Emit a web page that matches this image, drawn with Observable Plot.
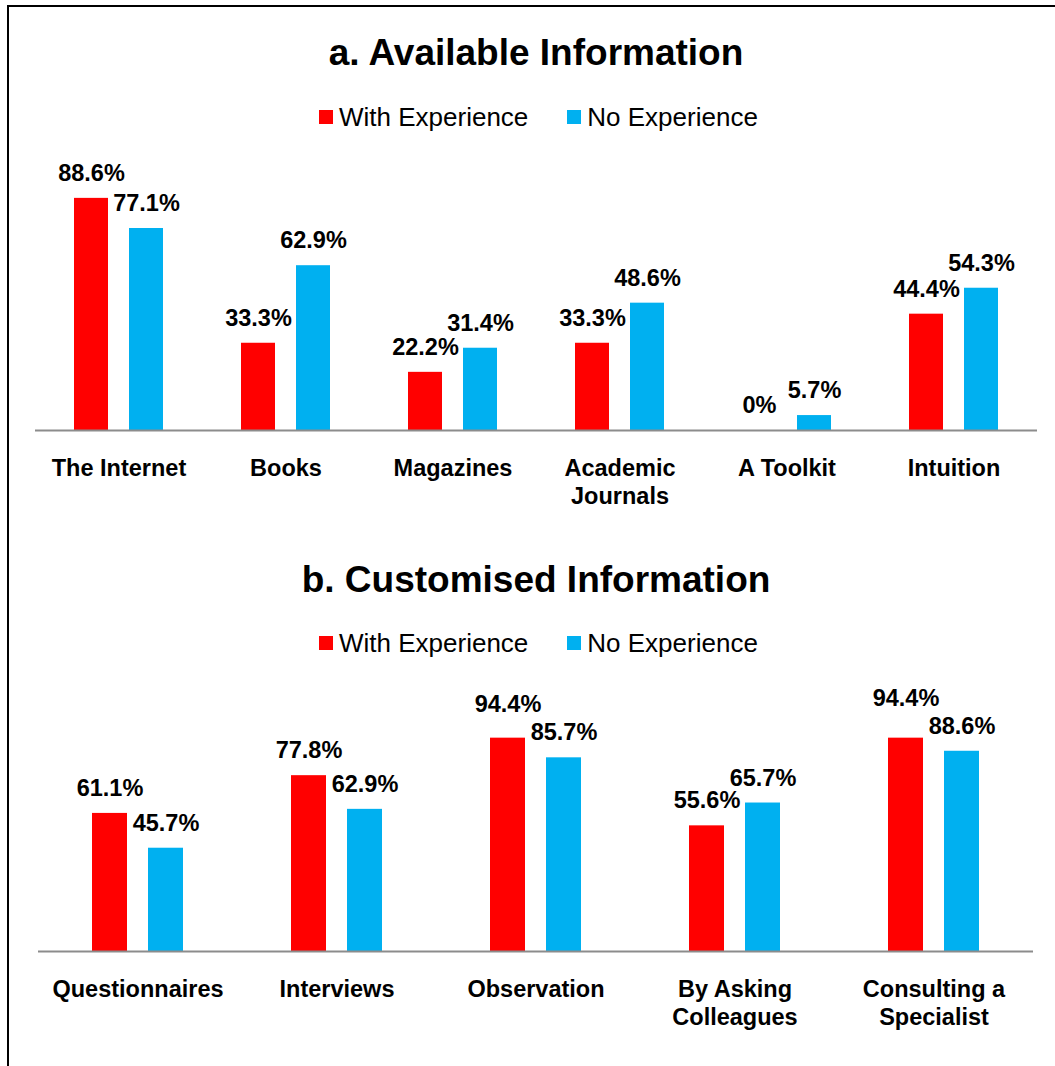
<!DOCTYPE html>
<html>
<head>
<meta charset="utf-8">
<script src="https://cdn.jsdelivr.net/npm/d3@7"></script>
<script src="https://cdn.jsdelivr.net/npm/@observablehq/plot@0.6"></script>
<style>
html, body { margin: 0; padding: 0; background: #fff; overflow: hidden; }
body { width: 1055px; height: 1066px; position: relative; font-family: "Liberation Sans", Arial, sans-serif; color: #000; }
#frame { position: absolute; left: 7px; top: 5px; width: 1120px; height: 1120px; border: 2px solid #000; box-sizing: border-box; }
.title { position: absolute; left: 7px; width: 1058px; text-align: center; font-size: 37px; line-height: 37px; font-weight: bold; white-space: nowrap; }
.legend { position: absolute; left: 319px; display: flex; align-items: center; font-size: 26px; line-height: 26px; white-space: nowrap; }
.item { display: flex; align-items: center; }
.item + .item { margin-left: 39px; }
.sw { width: 14px; height: 14px; margin-right: 6px; }
.panel { position: absolute; left: 0; }
</style>
</head>
<body>
<div id="frame"></div>
<div class="title" id="titleA" style="top:34px"></div>
<div class="legend" id="legendA" style="top:104px"></div>
<div class="panel" id="panelA" style="top:150px"></div>
<div class="title" id="titleB" style="top:561px"></div>
<div class="legend" id="legendB" style="top:630px"></div>
<div class="panel" id="panelB" style="top:680px"></div>
<script>
// ---- data ----
const series = ["With Experience", "No Experience"];
const seriesColors = ["#FF0000", "#00B0F0"];

const titleA = "a. Available Information";
const categoriesA = ["The Internet", "Books", "Magazines", "Academic Journals", "A Toolkit", "Intuition"];
const tickLabelsA = ["The Internet", "Books", "Magazines", "Academic\nJournals", "A Toolkit", "Intuition"];
const withExperienceA = [88.6, 33.3, 22.2, 33.3, 0, 44.4];
const noExperienceA = [77.1, 62.9, 31.4, 48.6, 5.7, 54.3];

const titleB = "b. Customised Information";
const categoriesB = ["Questionnaires", "Interviews", "Observation", "By Asking Colleagues", "Consulting a Specialist"];
const tickLabelsB = ["Questionnaires", "Interviews", "Observation", "By Asking\nColleagues", "Consulting a\nSpecialist"];
const withExperienceB = [61.1, 77.8, 94.4, 55.6, 94.4];
const noExperienceB = [45.7, 62.9, 85.7, 65.7, 88.6];

const FONT = '"Liberation Sans", Arial, sans-serif';
const fmt = v => v === 0 ? "0%" : v.toFixed(1) + "%";

function legend(el) {
  series.forEach((s, i) => {
    const item = document.createElement("div");
    item.className = "item";
    const sw = document.createElement("div");
    sw.className = "sw";
    sw.style.background = seriesColors[i];
    const t = document.createElement("span");
    t.textContent = s;
    item.appendChild(sw);
    item.appendChild(t);
    el.appendChild(item);
  });
}

function panel({cats, ticks, w, n, height, marginTop, marginBottom, marginLeft, marginRight, paddingOuter}) {
  const pxPer = (height - marginTop - marginBottom) / 100;
  const data = [];
  cats.forEach((c, i) => {
    // raise the left label when it would crowd its right-hand neighbour
    const lift = w[i] > n[i] ? Math.max(0, 28 - (w[i] - n[i]) * pxPer) / pxPer : 0;
    data.push({category: c, series: series[0], value: w[i], labelY: w[i] + lift, label: fmt(w[i])});
    data.push({category: c, series: series[1], value: n[i], labelY: n[i], label: fmt(n[i])});
  });
  return Plot.plot({
    width: 1055, height, marginTop, marginBottom, marginLeft, marginRight,
    style: {fontFamily: FONT, background: "transparent", overflow: "visible", color: "#000"},
    fx: {domain: cats, padding: 0},
    x: {domain: series, paddingInner: 0.375, paddingOuter, axis: null},
    y: {domain: [0, 100], axis: null},
    color: {domain: series, range: seriesColors},
    marks: [
      Plot.barY(data, {fx: "category", x: "series", y: "value", fill: "series"}),
      Plot.ruleY([0], {stroke: "#8C8C8C", strokeWidth: 2}),
      Plot.text(data, {fx: "category", x: "series", y: "labelY", text: "label", dy: -17.5,
        lineAnchor: "bottom", fontSize: 23.5, fontWeight: "bold", fill: "#000"}),
      Plot.axisFx({anchor: "bottom", tickSize: 0, tickPadding: 25, label: null,
        tickFormat: d => ticks[cats.indexOf(d)], fontSize: 23.5, fontWeight: "bold",
        lineHeight: 1.2, fill: "#000"})
    ]
  });
}

document.getElementById("titleA").textContent = titleA;
document.getElementById("titleB").textContent = titleB;
legend(document.getElementById("legendA"));
legend(document.getElementById("legendB"));

document.getElementById("panelA").appendChild(panel({
  cats: categoriesA, ticks: tickLabelsA, w: withExperienceA, n: noExperienceA,
  height: 370, marginTop: 18, marginBottom: 90, marginLeft: 34, marginRight: 18, paddingOuter: 0.679
}));
document.getElementById("panelB").appendChild(panel({
  cats: categoriesB, ticks: tickLabelsB, w: withExperienceB, n: noExperienceB,
  height: 361, marginTop: 45, marginBottom: 90, marginLeft: 37, marginRight: 21, paddingOuter: 0.964
}));
</script>
</body>
</html>
